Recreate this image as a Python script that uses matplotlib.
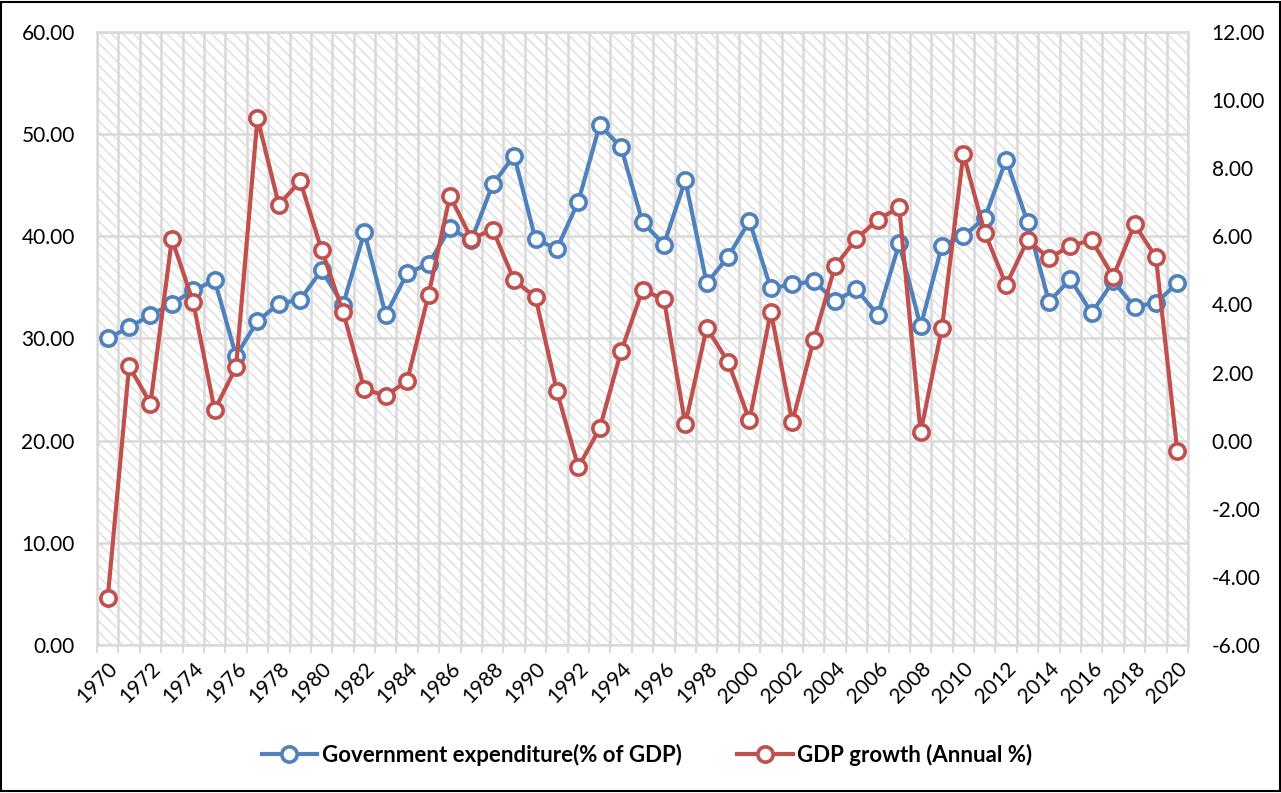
import numpy as np
import matplotlib
matplotlib.use("Agg")
import matplotlib.pyplot as plt
from matplotlib.patches import Rectangle

# --- data ---
years = list(range(1970, 2021))
gov_exp = [30.0, 31.1, 32.3, 33.4, 34.7, 35.7, 28.3, 31.7, 33.4, 33.8,
           36.7, 33.3, 40.4, 32.3, 36.4, 37.3, 40.8, 39.6, 45.1, 47.9,
           39.7, 38.8, 43.4, 50.9, 48.7, 41.4, 39.2, 45.5, 35.4, 38.0,
           41.5, 34.9, 35.3, 35.6, 33.7, 34.8, 32.3, 39.3, 31.2, 39.1,
           40.0, 41.8, 47.5, 41.4, 33.6, 35.8, 32.5, 35.6, 33.1, 33.5, 35.4]
gdp_growth = [-4.63, 2.19, 1.09, 5.92, 4.06, 0.90, 2.16, 9.47, 6.93, 7.62,
              5.60, 3.79, 1.51, 1.32, 1.76, 4.29, 7.19, 5.93, 6.20, 4.71,
              4.21, 1.45, -0.78, 0.36, 2.62, 4.42, 4.16, 0.48, 3.31, 2.32,
              0.60, 3.79, 0.55, 2.95, 5.12, 5.93, 6.49, 6.85, 0.24, 3.32,
              8.42, 6.11, 4.57, 5.89, 5.36, 5.72, 5.89, 4.81, 6.35, 5.39, -0.30]
left_ticks = [0, 10, 20, 30, 40, 50, 60]
right_ticks = [-6, -4, -2, 0, 2, 4, 6, 8, 10, 12]
label_years = years[::2]
names = ["Government expenditure(% of GDP)", "GDP growth (Annual %)"]

BLUE, RED, GRID = "#4F81BD", "#C0504D", "#D9D9D9"

plt.rcParams.update({
    "font.family": ["Lato", "DejaVu Sans"],
    "font.size": 15,
    "hatch.color": "#E2E2E2",
    "hatch.linewidth": 1.2,
})

fig = plt.figure(figsize=(12.81, 7.93), dpi=100)
ax = fig.add_axes([97 / 1281, 1 - 645 / 793, (1188 - 97) / 1281, (645 - 32) / 793])

# hatched plot area background
ax.add_patch(Rectangle((0, 0), 1, 1, transform=ax.transAxes, facecolor="white",
                       edgecolor="#E2E2E2", hatch="\\\\\\", lw=0, zorder=0))
ax.set_axisbelow(True)

ax.plot(years, gov_exp, color=BLUE, lw=3, marker="o", ms=11, mfc="white",
        mec=BLUE, mew=2.6, zorder=3)
ax.set_xlim(1969.5, 2020.5)
ax.set_ylim(0, 60)
ax.set_yticks(left_ticks)
ax.set_yticklabels([f"{v:.2f}" for v in left_ticks])
ax.set_xticks(label_years)
ax.set_xticklabels([str(y) for y in label_years], rotation=45, ha="right",
                   rotation_mode="anchor")
ax.set_xticks(np.arange(1969.5, 2021, 1), minor=True)
ax.tick_params(axis="x", which="major", length=0, pad=10)
ax.tick_params(axis="x", which="minor", length=6, width=1.5, color=GRID)
ax.tick_params(axis="y", length=0, pad=16)
ax.grid(True, axis="y", which="major", color=GRID, lw=1.8)
ax.grid(True, axis="x", which="minor", color=GRID, lw=1.8)
for s in ax.spines.values():
    s.set_color(GRID)
    s.set_linewidth(1.8)

ax2 = ax.twinx()
ax2.plot(years, gdp_growth, color=RED, lw=3, marker="o", ms=11, mfc="white",
         mec=RED, mew=2.6, zorder=3)
ax2.set_ylim(-6, 12)
ax2.set_yticks(right_ticks)
ax2.set_yticklabels([f"{v:.2f}" for v in right_ticks])
ax2.tick_params(axis="y", length=0, pad=17)
for s in ax2.spines.values():
    s.set_visible(False)

h1 = ax.lines[0]
h2 = ax2.lines[0]
fig.legend([h1, h2], names, loc="center", bbox_to_anchor=(0.505, 0.048), ncol=2,
           frameon=False, prop={"weight": "bold", "size": 16}, handlelength=2.5,
           columnspacing=2.5, handletextpad=0.2)

# outer chart border
fig.add_artist(Rectangle((0.001, 0.002), 0.998, 0.996, transform=fig.transFigure,
                         fill=False, edgecolor="black", lw=1.5))

fig.savefig("out.png", dpi=100)
